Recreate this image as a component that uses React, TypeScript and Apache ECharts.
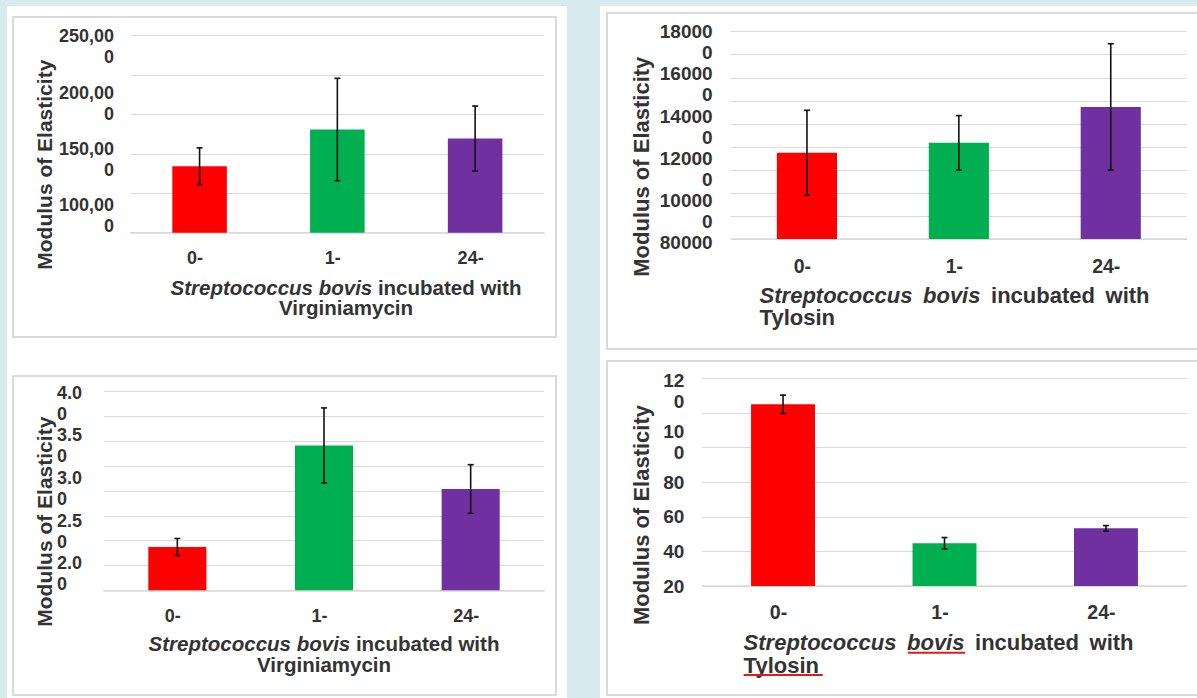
import React, { useEffect, useRef } from "react";
import * as echarts from "echarts";

// ---------- data ----------
const categories = ["0-", "1-", "24-"];
const barColors = ["#ff0000", "#00b050", "#7030a0"];

// Top-left: Virginiamycin
const vmTopMeans = [134000, 166600, 158600];
const vmTopSD = [16300, 45500, 28900];
const vmTopTicks = [100000, 150000, 200000, 250000];

// Top-right: Tylosin
const tyTopMeans = [122700, 127400, 144400];
const tyTopSD = [20100, 12900, 29900];
const tyTopTicks = [80000, 100000, 120000, 140000, 160000, 180000];

// Bottom-left: Virginiamycin
const vmBotMeans = [2.19, 3.38, 2.87];
const vmBotSD = [0.1, 0.44, 0.285];
const vmBotTicks = [2.0, 2.5, 3.0, 3.5, 4.0];

// Bottom-right: Tylosin
const tyBotMeans = [125.0, 44.7, 53.3];
const tyBotSD = [5.3, 3.3, 1.6];
const tyBotTicks = [20, 40, 60, 80, 100, 120];

const yTitle = "Modulus of Elasticity";
const genus = "Streptococcus";
const species = "bovis";
const verbWords = ["incubated", "with"];
const drugVm = "Virginiamycin";
const drugTy = "Tylosin";

// ---------- styles ----------
const FONT = "'Liberation Sans', Arial, Helvetica, sans-serif";
const TEXT = "#333333";
const GRIDC = "#d9d9d9";

function wrapLabel(s: string, maxLen: number) {
  return s.length > maxLen ? s.slice(0, -1) + "\n" + s.slice(-1) : s;
}

const renderErr = (_params: any, api: any) => {
  const i = api.value(0);
  const lo = api.coord([i, api.value(1)]);
  const hi = api.coord([i, api.value(2)]);
  const cap = 3;
  const st = { stroke: "#111111", lineWidth: 1.6 };
  return {
    type: "group",
    children: [
      { type: "line", shape: { x1: lo[0], y1: lo[1], x2: hi[0], y2: hi[1] }, style: st },
      { type: "line", shape: { x1: hi[0] - cap, y1: hi[1], x2: hi[0] + cap, y2: hi[1] }, style: st },
      { type: "line", shape: { x1: lo[0] - cap, y1: lo[1], x2: lo[0] + cap, y2: lo[1] }, style: st },
    ],
  };
};

type Panel = {
  means: number[];
  sd: number[];
  ticks: number[];
  fmt: (v: number) => string;
  maxLen: number;
  plot: { left: number; top: number; width: number; height: number };
  dataMin: number;
  dataMax: number;
  dataInterval?: number;
  splits?: number;
  labelGrid: { top: number; height: number };
  labelMargin: number;
  labelAlign: string;
  tickFont: number;
  catFont: number;
  catMargin: number;
};

const panels: Panel[] = [
  {
    means: vmTopMeans, sd: vmTopSD, ticks: vmTopTicks,
    fmt: (v) => Math.round(v).toLocaleString("en-US"), maxLen: 6,
    plot: { left: 130.7, top: 35.7, width: 413.3, height: 197 },
    dataMin: 74900, dataMax: 250000, splits: 5,
    labelGrid: { top: 25.9, height: 168.8 }, labelMargin: 16.7, labelAlign: "right",
    tickFont: 18, catFont: 18, catMargin: 16.6,
  },
  {
    means: tyTopMeans, sd: tyTopSD, ticks: tyTopTicks,
    fmt: (v) => String(Math.round(v)), maxLen: 5,
    plot: { left: 731, top: 31.7, width: 455.7, height: 207.3 },
    dataMin: 81900, dataMax: 180000, splits: 9,
    labelGrid: { top: 21, height: 211.4 }, labelMargin: 18.4, labelAlign: "right",
    tickFont: 19, catFont: 19.5, catMargin: 17,
  },
  {
    means: vmBotMeans, sd: vmBotSD, ticks: vmBotTicks,
    fmt: (v) => v.toFixed(2), maxLen: 3,
    plot: { left: 104, top: 391.7, width: 440, height: 198.6 },
    dataMin: 1.683, dataMax: 4.01, splits: 8,
    labelGrid: { top: 382.2, height: 170.6 }, labelMargin: 47, labelAlign: "left",
    tickFont: 18, catFont: 18, catMargin: 16.7,
  },
  {
    means: tyBotMeans, sd: tyBotSD, ticks: tyBotTicks,
    fmt: (v) => String(Math.round(v)), maxLen: 2,
    plot: { left: 702.3, top: 378.3, width: 484.4, height: 207.7 },
    dataMin: 20, dataMax: 140, dataInterval: 20,
    labelGrid: { top: 369.5, height: 51 }, labelMargin: 18, labelAlign: "right",
    tickFont: 19, catFont: 19.5, catMargin: 16,
  },
];

function buildOption() {
  const grid: any[] = [];
  const xAxis: any[] = [];
  const yAxis: any[] = [];
  const series: any[] = [];

  panels.forEach((p) => {
    const gi = grid.length;
    grid.push({ left: p.plot.left, top: p.plot.top, width: p.plot.width, height: p.plot.height });
    const xi = xAxis.length;
    xAxis.push({
      type: "category", gridIndex: gi, data: categories,
      axisLine: { show: true, lineStyle: { color: GRIDC, width: 1.5 } },
      axisTick: { show: false },
      splitLine: { show: false },
      axisLabel: {
        color: TEXT, fontFamily: FONT, fontWeight: "bold", fontSize: p.catFont,
        lineHeight: p.catFont, margin: p.catMargin, padding: [0, 9, 0, 0],
      },
    });
    const yi = yAxis.length;
    const multiTicks = p.ticks.filter((t) => wrapLabel(p.fmt(t), p.maxLen).includes("\n"));
    const singleTicks = p.ticks.filter((t) => !wrapLabel(p.fmt(t), p.maxLen).includes("\n"));
    if (p.dataInterval) {
      yAxis.push({
        type: "value", gridIndex: gi, min: p.dataMin, max: p.dataMax, interval: p.dataInterval,
        axisLine: { show: false }, axisTick: { show: false },
        splitLine: { show: true, lineStyle: { color: GRIDC, width: 1 } },
        axisLabel: {
          formatter: (v: number) => (singleTicks.includes(v) ? p.fmt(v) : ""),
          margin: p.labelMargin, fontSize: p.tickFont, fontWeight: "bold", color: TEXT, fontFamily: FONT,
        },
      });
    } else {
      yAxis.push({ type: "value", gridIndex: gi, min: p.dataMin, max: p.dataMax, show: false });
      yAxis.push({
        type: "value", gridIndex: gi, min: 0, max: p.splits, interval: 1, position: "left",
        axisLine: { show: false }, axisTick: { show: false }, axisLabel: { show: false },
        splitLine: { show: true, lineStyle: { color: GRIDC, width: 1 } },
      });
    }
    series.push({
      type: "bar", xAxisIndex: xi, yAxisIndex: yi, barWidth: "39.6%", clip: true,
      data: p.means.map((v, i) => ({ value: v, itemStyle: { color: barColors[i] } })),
    });
    series.push({
      type: "custom", xAxisIndex: xi, yAxisIndex: yi, z: 3,
      encode: { x: 0, y: [1, 2] },
      data: p.means.map((m, i) => [i, m - p.sd[i], m + p.sd[i]]),
      renderItem: renderErr,
    });

    // label grid for wrapped tick labels
    const lt = p.dataInterval ? multiTicks : p.ticks;
    const lgi = grid.length;
    grid.push({ left: p.plot.left, top: p.labelGrid.top, width: 10, height: p.labelGrid.height });
    xAxis.push({ type: "value", gridIndex: lgi, show: false, min: 0, max: 1 });
    yAxis.push({
      type: "value", gridIndex: lgi, min: lt[0], max: lt[lt.length - 1], interval: lt[1] - lt[0],
      axisLine: { show: false }, axisTick: { show: false }, splitLine: { show: false },
      axisLabel: {
        formatter: (v: number) => wrapLabel(p.fmt(v), p.maxLen),
        align: p.labelAlign, verticalAlign: "top", margin: p.labelMargin, lineHeight: 21,
        fontSize: p.tickFont, fontWeight: "bold", color: TEXT, fontFamily: FONT,
      },
    });
  });

  const yT = (x: number, y: number, size: number) => ({
    type: "text", x, y, rotation: Math.PI / 2,
    style: { text: yTitle, fontSize: size, fontWeight: "bold", fontFamily: FONT, fill: TEXT, align: "center", verticalAlign: "middle" },
  });
  // x-axis title: two lines, one text element
  const xT = (x: number, top: number, size: number, lh: number, align: string, drug: string, space: number) => ({
    type: "text", x, y: top,
    style: {
      text:
        "{i|" + genus + "}{s| }{i|" + species + "}{s| }{n|" + verbWords[0] + "}{s| }{n|" + verbWords[1] + "}\n{n|" + drug + "}",
      rich: {
        i: { fontStyle: "italic", fontWeight: "bold", fontSize: size, fontFamily: FONT, fill: TEXT, lineHeight: lh },
        n: { fontWeight: "bold", fontSize: size, fontFamily: FONT, fill: TEXT, lineHeight: lh },
        s: { fontWeight: "bold", fontSize: size, fontFamily: FONT, fill: TEXT, lineHeight: lh, width: space },
      },
      fontSize: size, fontWeight: "bold", fontFamily: FONT, fill: TEXT, lineHeight: lh,
      align, verticalAlign: "top",
    },
  });

  const graphic = [
    yT(44.3, 164.7, 21), yT(641.3, 166.7, 22), yT(44.3, 521.7, 21), yT(641.3, 515, 22),
    xT(346, 276.6, 20.5, 20.8, "center", drugVm, 5.7),
    xT(759.6, 283.6, 22, 22.8, "left", drugTy, 10.6),
    xT(324, 633, 20.5, 20.8, "center", drugVm, 5.7),
    xT(743.6, 631, 22, 22.8, "left", drugTy, 10.6),
    { type: "line", shape: { x1: 907.8, y1: 652.7, x2: 965.2, y2: 652.7 }, style: { stroke: "#e31a1a", lineWidth: 2 } },
    { type: "line", shape: { x1: 743.6, y1: 675, x2: 822.8, y2: 675 }, style: { stroke: "#e31a1a", lineWidth: 2 } },
  ];

  return { animation: false, grid, xAxis, yAxis, series, graphic };
}

const box = (left: number, top: number, width: number, height: number): React.CSSProperties => ({
  position: "absolute", left, top, width, height, boxSizing: "border-box",
  border: "2px solid #dadada", background: "#ffffff",
});

export default function App() {
  const ref = useRef<HTMLDivElement>(null);
  useEffect(() => {
    if (!ref.current) return;
    const chart = echarts.init(ref.current, undefined, { renderer: "svg" });
    chart.setOption(buildOption() as any);
    return () => chart.dispose();
  }, []);
  return (
    <div style={{ position: "fixed", left: 0, top: 0, width: 1197, height: 698, background: "#d6eaf0", overflow: "hidden" }}>
      <div style={{ position: "absolute", left: 7, top: 6, width: 560, height: 692, background: "#ffffff" }} />
      <div style={{ position: "absolute", left: 600, top: 6, width: 597, height: 692, background: "#ffffff" }} />
      <div style={box(12, 16, 545, 322)} />
      <div style={box(12, 375, 545, 321)} />
      <div style={box(606, 12, 600, 338)} />
      <div style={box(606, 360, 600, 336)} />
      <div ref={ref} style={{ position: "absolute", left: 0, top: 0, width: 1197, height: 698 }} />
    </div>
  );
}
